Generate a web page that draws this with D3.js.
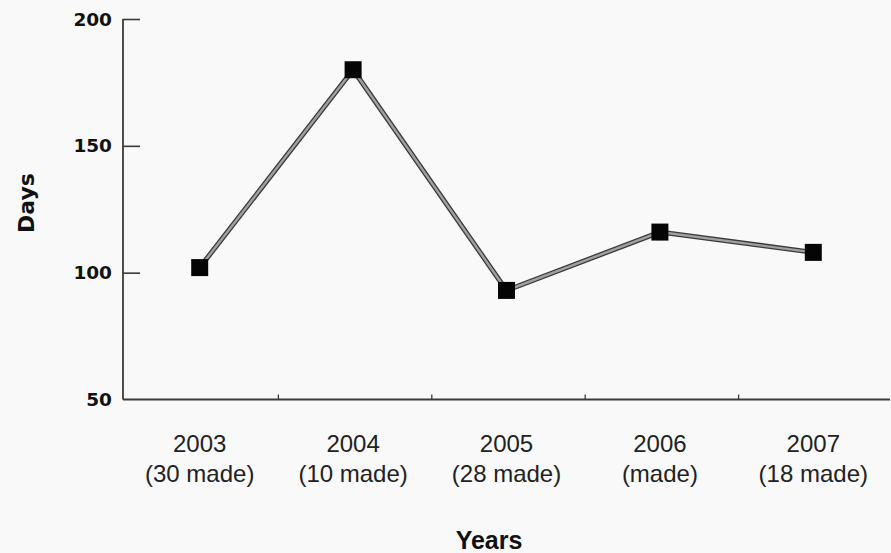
<!DOCTYPE html>
<html>
<head>
<meta charset="utf-8">
<script src="https://cdn.jsdelivr.net/npm/d3@7"></script>
<style>
  html, body { margin: 0; padding: 0; background: #f9f9f9; }
  svg { display: block; }
</style>
</head>
<body>
<svg id="chart" width="891" height="553"></svg>
<script>
const years = ["2003", "2004", "2005", "2006", "2007"];
const madeLabels = ["(30 made)", "(10 made)", "(28 made)", "(made)", "(18 made)"];
const days = [102, 180, 93, 116, 108];
const yTicks = [50, 100, 150, 200];

(function () {
const svg = d3.select("#chart");
const mLeft = 123, mRight = 890, mTop = 19, mBottom = 399.5;

const x = d3.scaleBand().domain(years).range([mLeft, mRight]).padding(0);
const y = d3.scaleLinear().domain([50, 200]).range([mBottom, mTop]);

const axisColor = "#3a3a3a";

// y axis
const yAxis = svg.append("g").attr("transform", `translate(${mLeft},0)`)
  .call(d3.axisRight(y).tickValues(yTicks).tickSize(17).tickFormat(""));
yAxis.select(".domain").remove();
yAxis.selectAll(".tick line").attr("stroke", axisColor).attr("stroke-width", 1.6)
  .filter(d => d === 50).remove();
svg.append("line").attr("x1", mLeft).attr("x2", mLeft).attr("y1", y(200)).attr("y2", y(50))
  .attr("stroke", axisColor).attr("stroke-width", 1.8);

svg.append("g").selectAll("text").data(yTicks).join("text")
  .attr("x", mLeft - 11).attr("y", d => y(d)).attr("dy", "0.36em")
  .attr("text-anchor", "end")
  .attr("font-family", "DejaVu Sans").attr("font-weight", "bold").attr("font-size", 18.5)
  .attr("fill", "#111").text(d => d);

// x axis
svg.append("line").attr("x1", mLeft).attr("x2", mRight).attr("y1", mBottom).attr("y2", mBottom)
  .attr("stroke", axisColor).attr("stroke-width", 1.8);
svg.append("g").selectAll("line").data(years).join("line")
  .attr("x1", d => x(d) + x.bandwidth() + 2).attr("x2", d => x(d) + x.bandwidth() + 2)
  .attr("y1", mBottom).attr("y2", mBottom - 5)
  .attr("stroke", axisColor).attr("stroke-width", 1.3);

const labelFont = "'Liberation Sans', Arial, sans-serif";
svg.append("g").selectAll("text").data(years).join("text")
  .attr("x", d => x(d) + x.bandwidth() / 2).attr("y", 452)
  .attr("text-anchor", "middle").attr("font-family", labelFont)
  .attr("font-size", 24).attr("fill", "#222").text(d => d);
svg.append("g").selectAll("text").data(madeLabels).join("text")
  .attr("x", (d, i) => x(years[i]) + x.bandwidth() / 2).attr("y", 482)
  .attr("text-anchor", "middle").attr("font-family", labelFont)
  .attr("font-size", 24).attr("fill", "#222").text(d => d);

// axis titles
svg.append("text").attr("x", 489).attr("y", 549)
  .attr("text-anchor", "middle").attr("font-family", labelFont)
  .attr("font-weight", "bold").attr("font-size", 25).attr("fill", "#111").text("Years");
svg.append("text").attr("transform", `translate(34,203) rotate(-90)`)
  .attr("text-anchor", "middle").attr("font-family", "DejaVu Sans")
  .attr("font-weight", "bold").attr("font-size", 22).attr("fill", "#111").text("Days");

// line
const pts = years.map((yr, i) => ({ yr, v: days[i] }));
const line = d3.line().x(d => x(d.yr) + x.bandwidth() / 2).y(d => y(d.v));
svg.append("path").datum(pts).attr("d", line)
  .attr("fill", "none").attr("stroke", "#3a3a3a").attr("stroke-width", 5);
svg.append("path").datum(pts).attr("d", line)
  .attr("fill", "none").attr("stroke", "#a0a0a0").attr("stroke-width", 2.4);

// markers
const s = 17;
svg.append("g").selectAll("rect").data(pts).join("rect")
  .attr("x", d => x(d.yr) + x.bandwidth() / 2 - s / 2)
  .attr("y", d => y(d.v) - s / 2)
  .attr("width", s).attr("height", s).attr("fill", "#050505");
})();
</script>
</body>
</html>
